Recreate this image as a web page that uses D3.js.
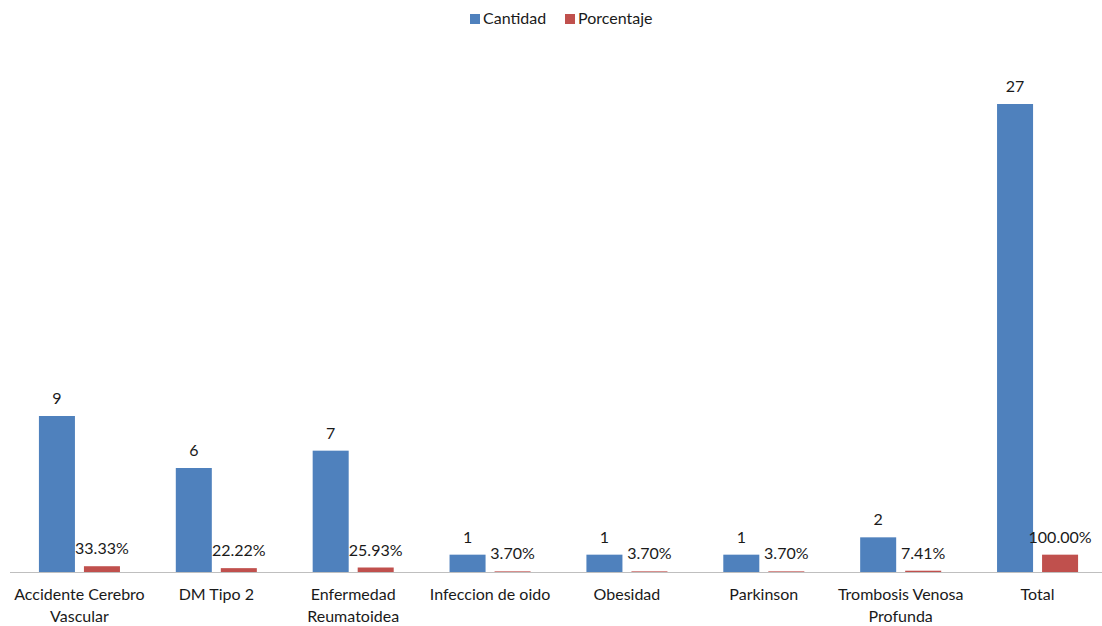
<!DOCTYPE html>
<html>
<head>
<meta charset="utf-8">
<script src="https://cdn.jsdelivr.net/npm/d3@7"></script>
<style>
	body { margin: 0; background: #fff; }
	text { font-family: Lato, "Open Sans", sans-serif; font-size: 16px; fill: #1a1a1a; }
</style>
</head>
<body>
<svg width="1102" height="626"></svg>
<script>
// data
const categories = [
	["Accidente Cerebro", "Vascular"],
	["DM Tipo 2"],
	["Enfermedad", "Reumatoidea"],
	["Infeccion de oido"],
	["Obesidad"],
	["Parkinson"],
	["Trombosis Venosa", "Profunda"],
	["Total"]
];
const cantidad = [9, 6, 7, 1, 1, 1, 2, 27];
const porcentaje = [0.3333, 0.2222, 0.2593, 0.0370, 0.0370, 0.0370, 0.0741, 1.0];
const seriesNames = ["Cantidad", "Porcentaje"];
const colors = ["#4f81bd", "#c0504d"];

const svg = d3.select("svg");
const plot = {left: 11, right: 1106, top: 52, bottom: 572};

const keys = categories.map((c, i) => i);
const x0 = d3.scaleBand()
	.domain(keys)
	.range([plot.left, plot.right])
	.paddingInner(0.408)
	.paddingOuter(0.204);
const x1 = d3.scaleBand()
	.domain(seriesNames)
	.range([0, x0.bandwidth()])
	.paddingInner(0.2);
const y = d3.scaleLinear()
	.domain([0, 30])
	.range([plot.bottom, plot.top]);

const rows = keys.map(i => ({
	i: i,
	values: [
		{name: "Cantidad", v: cantidad[i], label: String(cantidad[i])},
		{name: "Porcentaje", v: porcentaje[i], label: (porcentaje[i] * 100).toFixed(2) + "%"}
	]
}));

// baseline
svg.append("line")
	.attr("x1", 10).attr("x2", 1102)
	.attr("y1", y(0) + 0.5).attr("y2", y(0) + 0.5)
	.attr("stroke", "#bfbfbf")
	.attr("stroke-width", 1);

const groups = svg.selectAll("g.grp")
	.data(rows)
	.enter().append("g")
	.attr("class", "grp")
	.attr("transform", d => `translate(${x0(d.i)},0)`);

groups.selectAll("rect")
	.data(d => d.values)
	.enter().append("rect")
	.attr("x", d => x1(d.name))
	.attr("y", d => y(d.v))
	.attr("width", x1.bandwidth())
	.attr("height", d => y(0) - y(d.v))
	.attr("fill", (d, j) => colors[j]);

groups.selectAll("text.val")
	.data(d => d.values)
	.enter().append("text")
	.attr("class", "val")
	.attr("x", d => x1(d.name) + x1.bandwidth() / 2)
	.attr("y", d => y(d.v) - 12)
	.attr("text-anchor", "middle")
	.text(d => d.label);

// category labels
const catLabels = svg.selectAll("text.cat")
	.data(rows)
	.enter().append("text")
	.attr("class", "cat")
	.attr("text-anchor", "middle")
	.attr("x", d => x0(d.i) + x0.bandwidth() / 2)
	.attr("y", 600);
catLabels.selectAll("tspan")
	.data(d => categories[d.i])
	.enter().append("tspan")
	.attr("x", function () { return d3.select(this.parentNode).attr("x"); })
	.attr("dy", (d, j) => j === 0 ? 0 : 22)
	.text(d => d);

// legend
const legend = svg.append("g");
const legendX = [470, 565];
seriesNames.forEach((name, j) => {
	legend.append("rect")
		.attr("x", legendX[j]).attr("y", 14)
		.attr("width", 10).attr("height", 10)
		.attr("fill", colors[j]);
	legend.append("text")
		.attr("x", legendX[j] + 13).attr("y", 24)
		.text(name);
});
</script>
</body>
</html>
